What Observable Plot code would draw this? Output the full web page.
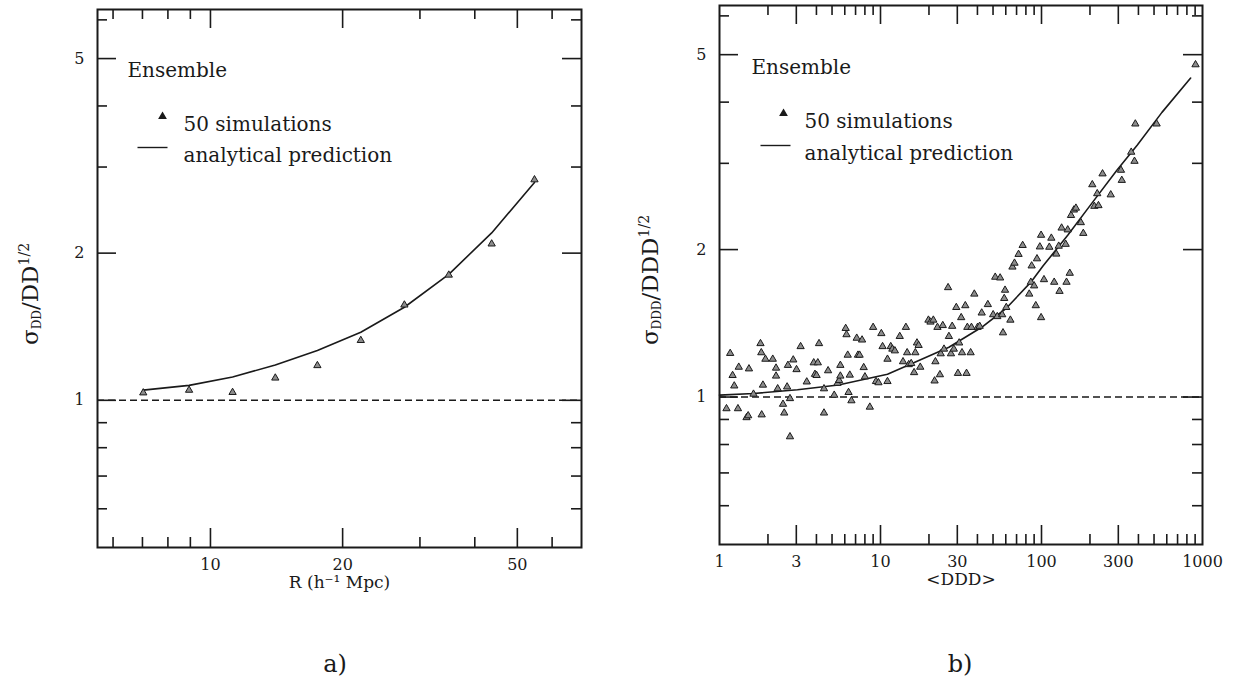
<!DOCTYPE html>
<html><head><meta charset="utf-8">
<script src="https://cdn.jsdelivr.net/npm/d3@7"></script>
<script src="https://cdn.jsdelivr.net/npm/@observablehq/plot@0.6"></script>
<style>
body{margin:0;background:#fff;}
#wrap{position:relative;width:1240px;height:680px;overflow:hidden;font-family:"DejaVu Serif",serif;color:#1a1a1a;background:#fff;}
.panel{position:absolute;top:0;}
.ytitle{position:absolute;transform:translate(-50%,-50%) rotate(-90deg);white-space:nowrap;font-size:23px;line-height:1;}
.ytitle sub{font-size:12px;vertical-align:-3px;}
.ytitle sup{font-size:14px;vertical-align:9px;}
.cap{position:absolute;transform:translate(-50%,-50%);font-size:24px;}
</style></head><body><div id="wrap"></div>
<script>
// ---- panel a) : sigma_DD / DD^(1/2) vs R ----
const rA      = [7.03, 8.94, 11.23, 14.05, 17.52, 22.0, 27.65, 34.9, 43.7, 54.7];
const sigmaA  = [1.036, 1.049, 1.038, 1.111, 1.178, 1.326, 1.567, 1.804, 2.089, 2.826];
const predA   = [1.049, 1.073, 1.116, 1.181, 1.264, 1.378, 1.55, 1.81, 2.2, 2.79];
const xMajorA = [10, 20, 50];
const xMinorA = [6, 7, 8, 9, 30, 40, 60];

// ---- panel b) : sigma_DDD / DDD^(1/2) vs <DDD> ----
const dddB = [1.105,1.165,1.206,1.235,1.302,1.317,1.472,1.507,1.524,1.626,
  1.797,1.818,1.828,1.861,1.928,2.142,2.245,2.245,2.298,2.48,
  2.524,2.63,2.661,2.74,2.74,2.871,3.009,3.19,3.483,3.848,
  3.917,4.009,4.08,4.152,4.457,4.457,4.725,5.159,5.406,5.534,
  5.632,5.632,6.077,6.149,6.258,6.332,6.445,6.597,7.118,7.244,
  7.417,7.683,7.865,8.005,8.585,9.0,9.376,9.71,10.12,10.3,
  11.05,11.05,11.58,11.85,12.28,13.17,13.8,14.38,14.64,14.98,
  15.51,16.17,16.46,16.85,17.25,17.66,19.85,20.44,21.29,21.67,
  21.93,22.58,23.39,23.66,24.37,24.8,26.29,26.6,27.4,27.88,
  28.54,29.56,30.27,30.8,31.71,32.08,33.63,34.23,34.63,36.29,
  36.72,38.26,40.09,41.29,42.52,46.42,50.09,51.59,53.13,55.34,
  56.99,57.66,58.68,59.37,60.42,64.08,65.99,67.96,72.03,76.38,
  83.9,85.86,86.87,90.0,92.14,93.76,97.68,99.4,99.4,103.6,
  111.8,115.1,119.9,123.5,127.9,129.4,133.3,141.3,143.0,145.5,
  149.8,152.5,158.9,163.6,175.5,181.8,206.8,212.9,221.9,225.8,
  239.4,269.2,311.6,315.3,360.8,378.1,382.6,518.8,905];
const sigmaB = [0.947,1.228,1.107,1.054,0.947,1.151,0.908,0.916,1.142,1.014,
  1.286,1.232,0.92,1.058,1.195,1.195,1.146,1.104,1.04,0.967,
  0.928,1.049,1.161,0.83,0.993,1.191,1.138,1.268,1.074,1.175,
  1.113,1.107,1.175,1.286,0.928,1.04,1.132,1.009,1.067,1.081,
  1.161,1.104,1.381,1.341,1.218,1.022,1.109,0.983,1.319,1.218,
  1.218,1.308,1.149,1.1,0.954,1.388,1.076,1.07,1.348,1.268,
  1.195,1.076,1.268,1.253,1.243,1.33,1.181,1.388,1.232,1.165,
  1.171,1.122,1.232,1.29,1.275,1.151,1.436,1.423,1.436,1.079,
  1.181,1.388,1.111,1.226,1.4,1.253,1.673,1.33,1.226,1.395,
  1.253,1.524,1.118,1.29,1.453,1.232,1.537,1.118,1.388,1.232,
  1.388,1.623,1.388,1.395,1.485,1.545,1.473,1.757,1.46,1.751,
  1.473,1.353,1.59,1.653,1.524,1.436,1.843,1.877,1.956,2.04,
  1.623,1.716,1.853,1.687,1.537,1.916,2.026,1.453,2.14,1.737,
  2.023,2.111,1.716,1.959,2.033,1.644,2.214,2.051,1.716,2.195,
  1.79,2.349,2.41,2.431,2.271,2.159,2.714,2.452,2.602,2.46,
  2.856,2.588,2.905,2.77,3.162,3.03,3.611,3.611,4.77];
const dddLine = [1, 1.63, 3.05, 5.47, 11.05, 15.7, 26.6, 42.5, 60.4, 85.9, 102.4, 145.5, 206.8, 293.9, 393.9, 560, 844];
const predB   = [1.009, 1.017, 1.035, 1.058, 1.113, 1.171, 1.264, 1.388, 1.518, 1.716, 1.853, 2.14, 2.494, 2.905, 3.271, 3.812, 4.479];
const xLabelsB = [1, 3, 10, 30, 100, 300, 1000];
const xMajorB = [3, 10, 30, 100, 300];
const xMinorB = [2,4,5,6,7,8,9,20,40,50,60,70,80,90,200,400,500,600,700,800,900];

// ---- shared y axis ----
const yMajor = [1, 2, 5];
const yMinor = [0.6, 0.7, 0.8, 0.9, 3, 4, 6];
const yDomain = [0.5, 6.3];
const legendTitle = "Ensemble";
const legendPts = "50 simulations";
const legendLine = "analytical prediction";

const ink = "#1a1a1a";
const W = 620, H = 620;
const lineSymbol = {draw(ctx) { ctx.moveTo(-15, 0); ctx.lineTo(15, 0); }};

function panel(o) {
  const plotH = H - o.mTop - o.mBottom, plotW = W - o.mLeft - o.mRight;
  const pts = o.ptsX.map((x, i) => ({x, y: o.ptsY[i]}));
  const line = o.lineX.map((x, i) => ({x, y: o.lineY[i]}));
  const MAJ = 19, MIN = 10, sw = 1.6;
  const id = d => d;
  return Plot.plot({
    width: W, height: H,
    marginTop: o.mTop, marginBottom: o.mBottom, marginLeft: o.mLeft, marginRight: o.mRight,
    style: {fontFamily: '"DejaVu Serif", serif', fontSize: "16px", color: ink, background: "transparent", overflow: "visible"},
    x: {type: "log", domain: o.xDomain, label: null},
    y: {type: "log", domain: yDomain, label: null},
    marks: [
      Plot.ruleY([1], {stroke: ink, strokeWidth: 1.4, strokeDasharray: "7,4"}),
      Plot.line(line, {x: "x", y: "y", stroke: ink, strokeWidth: 1.6}),
      Plot.dot(pts, {x: "x", y: "y", symbol: "triangle", r: 2.7, fill: "#8c8c8c", stroke: ink, strokeWidth: 1}),
      // inward ticks, bottom & top
      Plot.tickX(o.xMajor, {x: id, insetTop: plotH - MAJ, stroke: ink, strokeWidth: sw}),
      Plot.tickX(o.xMinor, {x: id, insetTop: plotH - MIN, stroke: ink, strokeWidth: sw}),
      Plot.tickX(o.xMajor, {x: id, insetBottom: plotH - MAJ, stroke: ink, strokeWidth: sw}),
      Plot.tickX(o.xMinor, {x: id, insetBottom: plotH - MIN, stroke: ink, strokeWidth: sw}),
      // inward ticks, left & right
      Plot.tickY(yMajor, {y: id, insetRight: plotW - MAJ, stroke: ink, strokeWidth: sw}),
      Plot.tickY(yMinor, {y: id, insetRight: plotW - MIN, stroke: ink, strokeWidth: sw}),
      Plot.tickY(yMajor, {y: id, insetLeft: plotW - MAJ, stroke: ink, strokeWidth: sw}),
      Plot.tickY(yMinor, {y: id, insetLeft: plotW - MIN, stroke: ink, strokeWidth: sw}),
      Plot.axisX({ticks: o.xLabels, tickSize: 0, tickPadding: 11, tickFormat: d => String(d), label: null, fontSize: 16}),
      Plot.axisY({ticks: yMajor, tickSize: 0, tickPadding: 13, tickFormat: d => String(d), label: null, fontSize: 16}),
      Plot.text([o.xTitle], {text: id, frameAnchor: "bottom", dy: 40, fontSize: 17, fill: ink}),
      Plot.frame({stroke: ink, strokeWidth: 2}),
      // legend
      Plot.text([legendTitle], {text: id, frameAnchor: "top-left", textAnchor: "start", dx: o.lg.tx0, dy: o.lg.y0, fontSize: 20, fill: ink}),
      Plot.dot([0], {frameAnchor: "top-left", dx: o.lg.sx, dy: o.lg.y1, symbol: "triangle", r: 2.3, fill: ink, stroke: ink}),
      Plot.text([legendPts], {text: id, frameAnchor: "top-left", textAnchor: "start", dx: o.lg.tx, dy: o.lg.y1, fontSize: 20, fill: ink}),
      Plot.dot([0], {frameAnchor: "top-left", dx: o.lg.lx, dy: o.lg.y2, symbol: lineSymbol, r: 3, fill: "none", stroke: ink, strokeWidth: 1.4}),
      Plot.text([legendLine], {text: id, frameAnchor: "top-left", textAnchor: "start", dx: o.lg.tx, dy: o.lg.y2, fontSize: 20, fill: ink})
    ]
  });
}

const wrap = document.getElementById("wrap");
function place(node, left) {
  const d = document.createElement("div");
  d.className = "panel"; d.style.left = left + "px";
  d.appendChild(node); wrap.appendChild(d);
}

place(panel({
  mTop: 9, mBottom: 73, mLeft: 97, mRight: 39,
  xDomain: [5.53, 70], xMajor: xMajorA, xMinor: xMinorA, xLabels: xMajorA,
  ptsX: rA, ptsY: sigmaA, lineX: rA, lineY: predA,
  xTitle: "R (h\u207B\u00B9 Mpc)",
  lg: {tx0: 30, y0: 53, sx: 65, y1: 107, tx: 86, lx: 55, y2: 138}
}), 0);

place(panel({
  mTop: 5, mBottom: 76, mLeft: 99, mRight: 38,
  xDomain: [1, 1000], xMajor: xMajorB, xMinor: xMinorB, xLabels: xLabelsB,
  ptsX: dddB, ptsY: sigmaB, lineX: dddLine, lineY: predB,
  xTitle: "<DDD>",
  lg: {tx0: 32, y0: 54, sx: 64, y1: 108, tx: 85, lx: 56, y2: 140}
}), 620);

function addHTML(cls, html, x, y) {
  const d = document.createElement("div");
  d.className = cls; d.innerHTML = html;
  d.style.left = x + "px"; d.style.top = y + "px";
  wrap.appendChild(d);
}
addHTML("ytitle", "σ<sub>DD</sub>/DD<sup>1/2</sup>", 30, 294);
addHTML("ytitle", "σ<sub>DDD</sub>/DDD<sup>1/2</sup>", 650, 280);
addHTML("cap", "a)", 335, 664);
addHTML("cap", "b)", 960, 664);
</script>
</body></html>
